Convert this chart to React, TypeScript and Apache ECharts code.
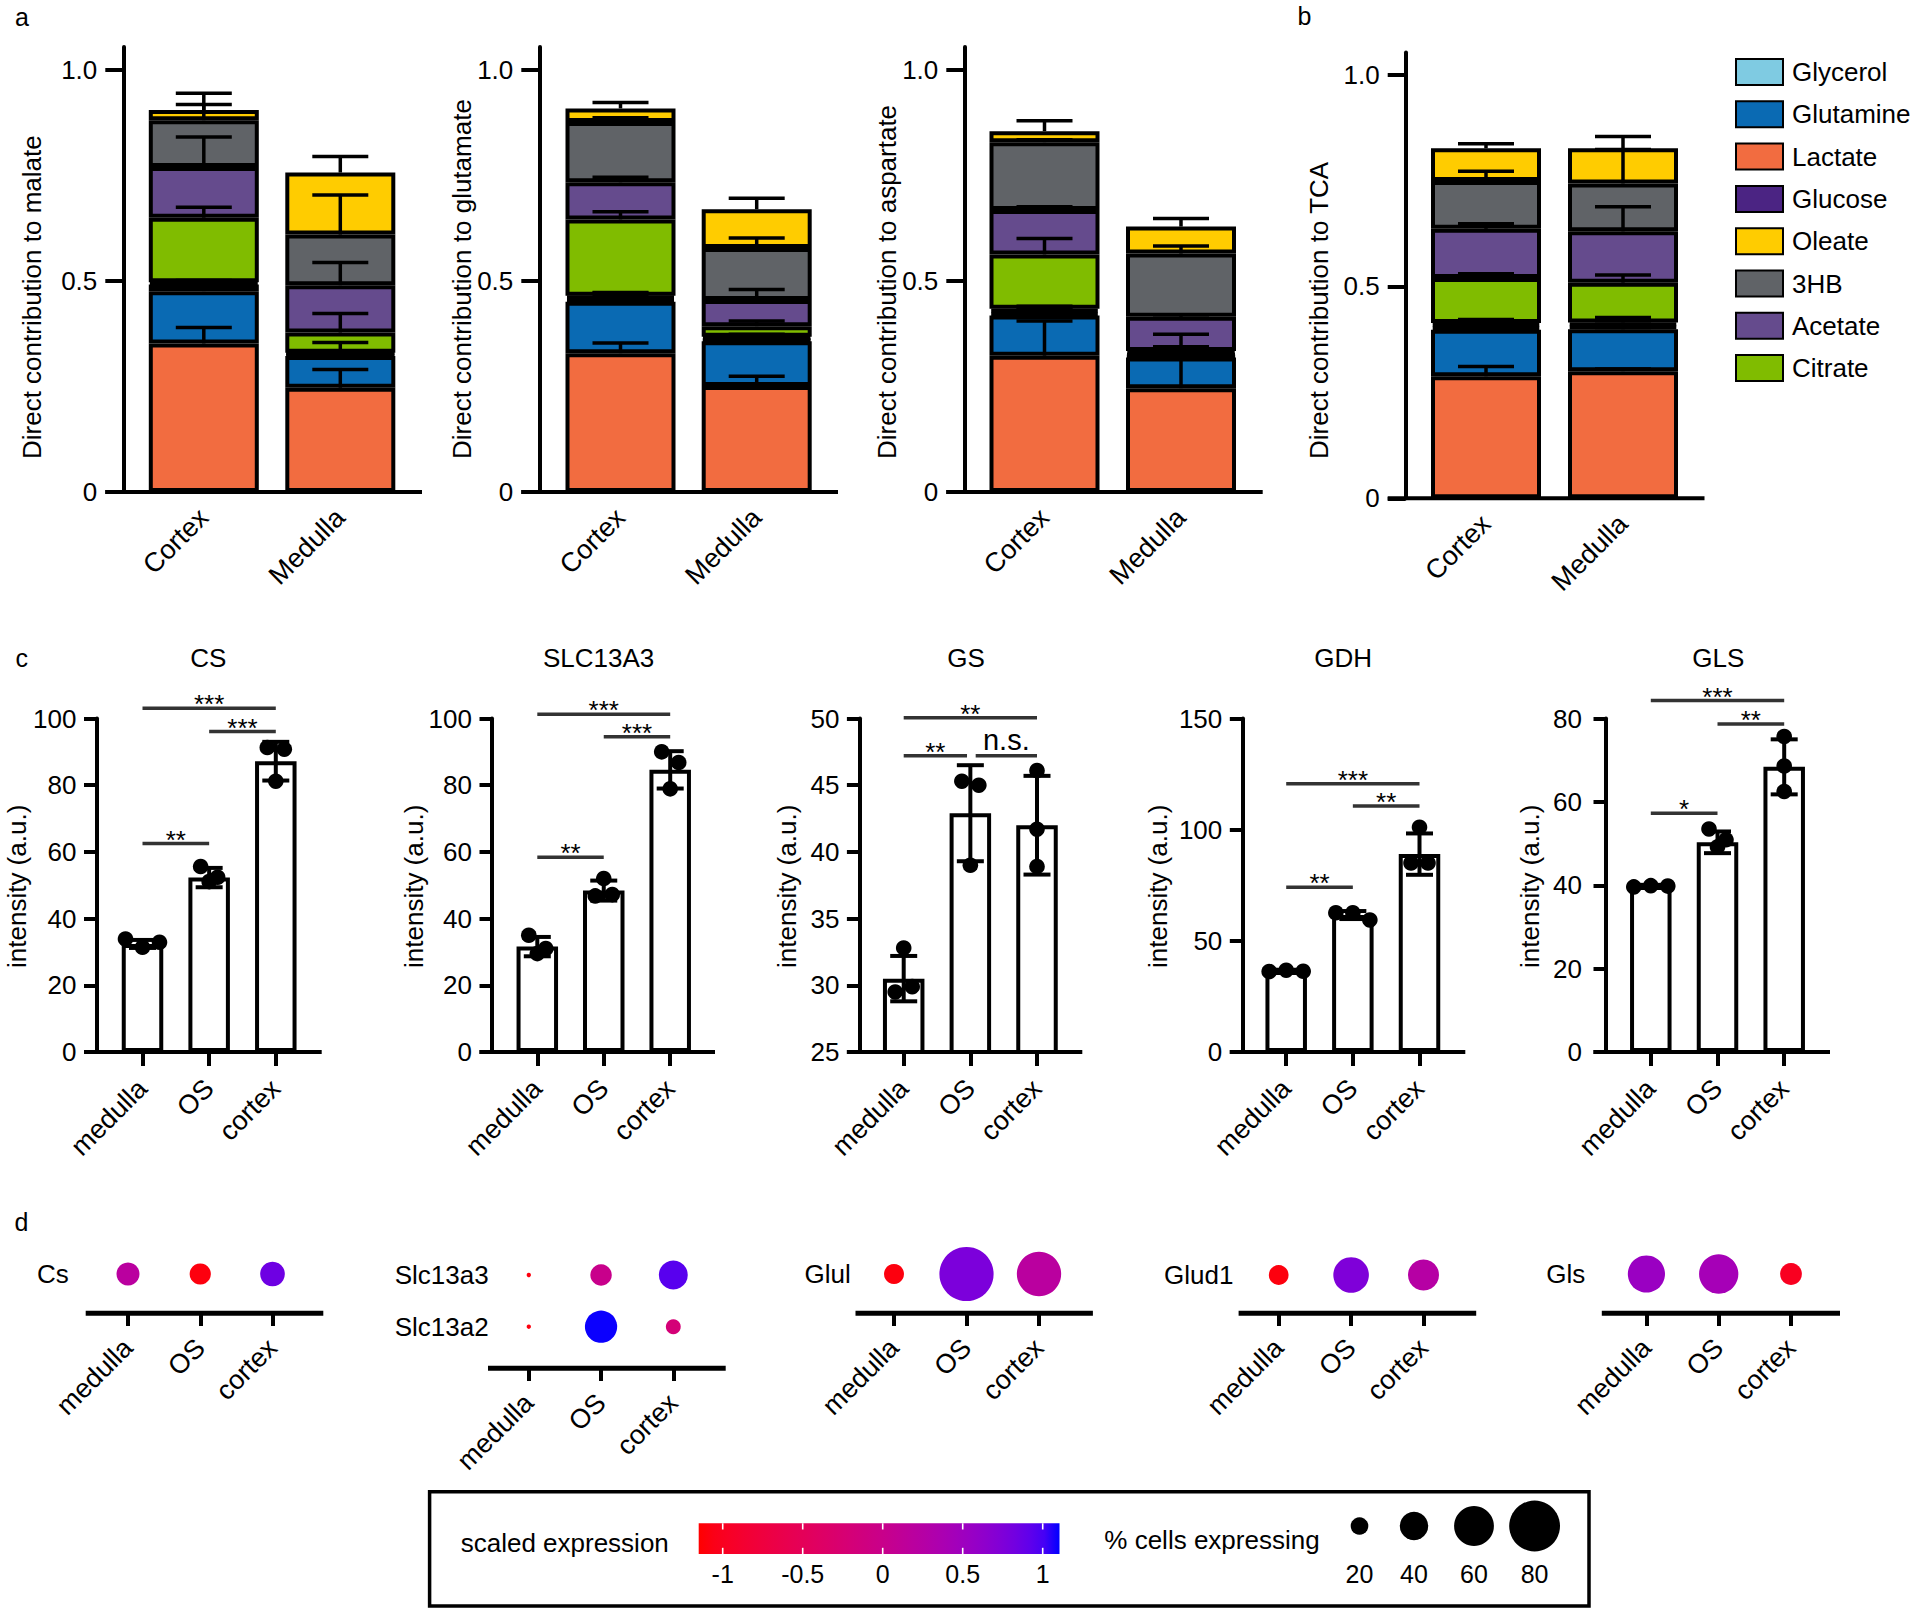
import { useEffect, useRef } from 'react';
import * as echarts from 'echarts';

const FONT = '"Liberation Sans", Arial, Helvetica, sans-serif';
const W = 1920;
const H = 1612;

// ---------------- panels a & b : direct contributions ----------------
const abGroups = ['Cortex', 'Medulla'];
// stacking order, bottom -> top
const stackSources = ['Lactate', 'Glutamine', 'Glycerol', 'Glucose', 'Citrate', 'Acetate', '3HB', 'Oleate'];
const sourceColors = ['#f26c40', '#0a6ab3', '#7fcbe2', '#4b2483', '#80bc00', '#654b8d', '#606367', '#ffcc00'];
const legendSources = ['Glycerol', 'Glutamine', 'Lactate', 'Glucose', 'Oleate', '3HB', 'Acetate', 'Citrate'];

// [cortex, medulla] for each source in stacking order
const malateMean = [[0.352, 0.247], [0.124, 0.075], [0.016, 0.004], [0.005, 0.004], [0.153, 0.048], [0.12, 0.112], [0.111, 0.12], [0.024, 0.147]];
const malateErr = [[0.038, 0.043], [0.024, 0.032], [0.006, 0.004], [0.004, 0.004], [0.025, 0.045], [0.071, 0.054], [0.037, 0.094], [0.04, 0.038]];
const glutamateMean = [[0.329, 0.251], [0.122, 0.106], [0.007, 0.005], [0.007, 0.006], [0.181, 0.025], [0.088, 0.062], [0.143, 0.123], [0.032, 0.092]];
const glutamateErr = [[0.024, 0.023], [0.02, 0.016], [0.005, 0.005], [0.008, 0.005], [0.018, 0.012], [0.012, 0.025], [0.01, 0.024], [0.014, 0.026]];
const aspartateMean = [[0.323, 0.246], [0.095, 0.073], [0.008, 0.004], [0.008, 0.005], [0.129, 0.006], [0.105, 0.081], [0.161, 0.15], [0.026, 0.064]];
const aspartateErr = [[0.082, 0.085], [0.018, 0.055], [0.005, 0.004], [0.006, 0.005], [0.038, 0.01], [0.008, 0.005], [0.006, 0.018], [0.025, 0.019]];
const tcaMean = [[0.288, 0.3], [0.11, 0.099], [0.008, 0.008], [0.008, 0.008], [0.106, 0.094], [0.116, 0.121], [0.113, 0.113], [0.077, 0.083]];
const tcaErr = [[0.023, 0.005], [0.008, 0.004], [0.004, 0.004], [0.008, 0.012], [0.01, 0.018], [0.012, 0.058], [0.023, 0.08], [0.011, 0.028]];
const abYTicks = [0, 0.5, 1];

const abCharts = [
  { name: 'Direct contribution to malate', mean: malateMean, err: malateErr },
  { name: 'Direct contribution to glutamate', mean: glutamateMean, err: glutamateErr },
  { name: 'Direct contribution to aspartate', mean: aspartateMean, err: aspartateErr },
  { name: 'Direct contribution to TCA', mean: tcaMean, err: tcaErr },
];
const abLayout = [
  { axisX: 123.3, c0: 203.8, c1: 340.3, xEnd: 422, top: 47, one: 70, bottom: 492, nameX: 32 },
  { axisX: 539.3, c0: 620.5, c1: 756.7, xEnd: 838, top: 47, one: 70, bottom: 492, nameX: 461.7 },
  { axisX: 964.3, c0: 1044.5, c1: 1181, xEnd: 1262.7, top: 47, one: 70, bottom: 492, nameX: 886.7 },
  { axisX: 1405.7, c0: 1486, c1: 1623, xEnd: 1704.5, top: 52.4, one: 74.6, bottom: 498.3, nameX: 1318.8 },
];

// ---------------- panel c : protein intensity ----------------
const regions = ['medulla', 'OS', 'cortex'];
const csMean = [32.4, 52.3, 87.2];
const csSd = [1.2, 2.9, 5.8];
const csPoints = [[33.9, 31.4, 32.9], [55.6, 51.1, 52.4], [91.3, 90.8, 81.2]];
const csBrackets = [[0, 1, 62.5], [0, 2, 103.1], [1, 2, 96.1]];
const csStars = ['**', '***', '***'];
const slcMean = [31.6, 48.4, 84.6];
const slcSd = [2.9, 3.0, 5.6];
const slcPoints = [[35.0, 31.0, 29.5], [52.0, 46.8, 47.2], [90.0, 86.8, 78.9]];
const slcBrackets = [[0, 1, 58.4], [0, 2, 101.3], [1, 2, 94.5]];
const slcStars = ['**', '***', '***'];
const gsMean = [30.5, 42.9, 42.0];
const gsSd = [1.7, 3.6, 3.7];
const gsPoints = [[32.8, 29.5, 29.9], [45.3, 45.0, 39.0], [46.1, 41.7, 38.9]];
const gsBrackets = [[0, 0.95, 47.2], [1.08, 2, 47.2], [0, 2, 50.05]];
const gsStars = ['**', 'n.s.', '**'];
const gdhMean = [36.4, 61.6, 89.0];
const gdhSd = [0.6, 1.8, 9.3];
const gdhPoints = [[36.2, 36.8, 36.3], [62.6, 62.6, 59.4], [101.1, 85.0, 85.0]];
const gdhBrackets = [[0, 1, 74.1], [0, 2, 120.6], [1, 2, 110.7]];
const gdhStars = ['**', '***', '**'];
const glsMean = [39.8, 50.3, 68.4];
const glsSd = [0.3, 2.6, 6.6];
const glsPoints = [[39.6, 39.9, 39.8], [53.5, 49.2, 50.9], [75.7, 68.6, 62.5]];
const glsBrackets = [[0, 1, 57.3], [0, 2, 84.3], [1, 2, 78.7]];
const glsStars = ['*', '***', '**'];

const cCharts = [
  { title: 'CS', mean: csMean, sd: csSd, pts: csPoints, br: csBrackets, stars: csStars, min: 0, max: 100, interval: 20 },
  { title: 'SLC13A3', mean: slcMean, sd: slcSd, pts: slcPoints, br: slcBrackets, stars: slcStars, min: 0, max: 100, interval: 20 },
  { title: 'GS', mean: gsMean, sd: gsSd, pts: gsPoints, br: gsBrackets, stars: gsStars, min: 25, max: 50, interval: 5 },
  { title: 'GDH', mean: gdhMean, sd: gdhSd, pts: gdhPoints, br: gdhBrackets, stars: gdhStars, min: 0, max: 150, interval: 50 },
  { title: 'GLS', mean: glsMean, sd: glsSd, pts: glsPoints, br: glsBrackets, stars: glsStars, min: 0, max: 80, interval: 20 },
];
const cLayout = [
  { axisX: 96.5, c0: 142.5, c2: 275.8, xEnd: 321.7, titleX: 208.4, nameX: 17, labelMargin: 20 },
  { axisX: 492, c0: 537.3, c2: 670.2, xEnd: 715, titleX: 598.6, nameX: 414.4, labelMargin: 20 },
  { axisX: 859.4, c0: 903.7, c2: 1037, xEnd: 1082.3, titleX: 966, nameX: 786.7, labelMargin: 20 },
  { axisX: 1242.3, c0: 1286.2, c2: 1419.5, xEnd: 1465.3, titleX: 1343.1, nameX: 1157.5, labelMargin: 20 },
  { axisX: 1606, c0: 1650.8, c2: 1784.2, xEnd: 1830, titleX: 1718.3, nameX: 1530, labelMargin: 24 },
];
const C_TOP = 718.5;
const C_BOTTOM = 1052;

// ---------------- panel d : dot plots ----------------
const csPct = [30, 26.7, 33.1];
const csScaled = [0.2, -1.1, 0.85];
const slc13a3Pct = [0.5, 27.2, 40.9];
const slc13a3Scaled = [-1.1, 0.0, 0.95];
const slc13a2Pct = [0.5, 46.7, 16];
const slc13a2Scaled = [-1.1, 1.1, -0.2];
const glulPct = [24.4, 86.2, 68.2];
const glulScaled = [-1.1, 0.77, 0.2];
const glud1Pct = [24, 52.6, 44.6];
const glud1Scaled = [-1.1, 0.75, 0.25];
const glsPct = [55.4, 59.1, 27.8];
const glsScaled = [0.54, 0.43, -1.0];

const dotPanels = [
  { genes: ['Cs'], pct: [csPct], scaled: [csScaled] },
  { genes: ['Slc13a2', 'Slc13a3'], pct: [slc13a2Pct, slc13a3Pct], scaled: [slc13a2Scaled, slc13a3Scaled] },
  { genes: ['Glul'], pct: [glulPct], scaled: [glulScaled] },
  { genes: ['Glud1'], pct: [glud1Pct], scaled: [glud1Scaled] },
  { genes: ['Gls'], pct: [glsPct], scaled: [glsScaled] },
];
const dLayout = [
  { c0: 128, c2: 272.5, lineX: [85.7, 323.3], axisY: 1313.3, topRowY: 1274, labelMargin: 23 },
  { c0: 528.8, c2: 673.3, lineX: [488, 725.7], axisY: 1368.3, topRowY: 1275, labelMargin: 4 },
  { c0: 894, c2: 1039, lineX: [855.5, 1092.9], axisY: 1313.3, topRowY: 1274, labelMargin: 7 },
  { c0: 1278.7, c2: 1423.5, lineX: [1238.6, 1476.2], axisY: 1313.3, topRowY: 1275, labelMargin: 9 },
  { c0: 1646.4, c2: 1791, lineX: [1601.8, 1840], axisY: 1313.3, topRowY: 1274, labelMargin: 25 },
];
const D_ROW = 51.7;

// legend scales
const exprTicks = [-1, -0.5, 0, 0.5, 1];
const exprDomain = [-1.15, 1.105];
const exprLow = '#ff0000';
const exprHigh = '#0000ff';
const sizeTicks = [20, 40, 60, 80];
const sizeDomain = [0, 20, 40, 60, 80, 100];
const sizeRange = [4, 17.6, 28.4, 39.8, 50.8, 61.8];

// ---------------- helpers ----------------
function hexToRgb(h: string) {
  const n = parseInt(h.slice(1), 16);
  return [(n >> 16) & 255, (n >> 8) & 255, n & 255];
}
const lin = (c: number) => {
  c /= 255;
  return c <= 0.04045 ? c / 12.92 : Math.pow((c + 0.055) / 1.055, 2.4);
};
const unlin = (c: number) => {
  const v = c <= 0.0031308 ? 12.92 * c : 1.055 * Math.pow(Math.max(c, 0), 1 / 2.4) - 0.055;
  return Math.round(Math.min(1, Math.max(0, v)) * 255);
};
const XN = 0.95047;
const ZN = 1.08883;
const fl = (t: number) => (t > 216 / 24389 ? Math.cbrt(t) : ((24389 / 27) * t + 16) / 116);
const finv = (t: number) => (t * t * t > 216 / 24389 ? t * t * t : (116 * t - 16) / (24389 / 27));
function toLab(hex: string) {
  const [r, g, b] = hexToRgb(hex).map(lin);
  const X = 0.4124 * r + 0.3576 * g + 0.1805 * b;
  const Y = 0.2126 * r + 0.7152 * g + 0.0722 * b;
  const Z = 0.0193 * r + 0.1192 * g + 0.9505 * b;
  const fx = fl(X / XN), fy = fl(Y), fz = fl(Z / ZN);
  return [116 * fy - 16, 500 * (fx - fy), 200 * (fy - fz)];
}
function fromLab(L: number, a: number, b: number) {
  const fy = (L + 16) / 116, fx = fy + a / 500, fz = fy - b / 200;
  const X = XN * finv(fx), Y = finv(fy), Z = ZN * finv(fz);
  const r = 3.2406 * X - 1.5372 * Y - 0.4986 * Z;
  const g = -0.9689 * X + 1.8758 * Y + 0.0415 * Z;
  const bb = 0.0557 * X - 0.204 * Y + 1.057 * Z;
  return `rgb(${unlin(r)},${unlin(g)},${unlin(bb)})`;
}
const labLow = toLab(exprLow);
const labHigh = toLab(exprHigh);
function exprColor(v: number) {
  let t = (v - exprDomain[0]) / (exprDomain[1] - exprDomain[0]);
  t = Math.min(1, Math.max(0, t));
  return fromLab(
    labLow[0] + (labHigh[0] - labLow[0]) * t,
    labLow[1] + (labHigh[1] - labLow[1]) * t,
    labLow[2] + (labHigh[2] - labLow[2]) * t,
  );
}
function dotSize(p: number) {
  for (let i = 1; i < sizeDomain.length; i++) {
    if (p <= sizeDomain[i]) {
      const t = (p - sizeDomain[i - 1]) / (sizeDomain[i] - sizeDomain[i - 1]);
      return sizeRange[i - 1] + t * (sizeRange[i] - sizeRange[i - 1]);
    }
  }
  return sizeRange[sizeRange.length - 1];
}
// centred horizontal swarm for dots of close value
function swarm(values: number[], pxPerUnit: number, gap: number) {
  const idx = values.map((v, i) => i).sort((a, b) => values[b] - values[a]);
  const offsets = new Array(values.length).fill(0);
  let cluster: number[] = [];
  const flush = () => {
    cluster.sort((a, b) => a - b);
    cluster.forEach((k, j) => (offsets[k] = (j - (cluster.length - 1) / 2) * gap));
    cluster = [];
  };
  idx.forEach((k) => {
    if (cluster.length && Math.abs(values[cluster[0]] - values[k]) * pxPerUnit >= gap * 0.85) flush();
    cluster.push(k);
  });
  flush();
  return offsets;
}

function txt(x: number, y: number, text: string, size: number, opt: any = {}) {
  const align = opt.align || 'center';
  const valign = opt.valign || 'middle';
  return {
    type: 'text',
    x,
    y,
    rotation: opt.rotation || 0,
    z: 20,
    style: {
      text,
      fontSize: size,
      fontFamily: FONT,
      fill: opt.color || '#000',
      textAlign: align,
      align,
      textVerticalAlign: valign,
      verticalAlign: valign,
    },
  };
}
function seg(x1: number, y1: number, x2: number, y2: number, w: number, color = '#000') {
  return { type: 'line', z: 20, shape: { x1, y1, x2, y2 }, style: { stroke: color, lineWidth: w } };
}

function buildOption() {
  const grid: any[] = [];
  const xAxis: any[] = [];
  const yAxis: any[] = [];
  const series: any[] = [];
  const graphics: any[] = [];

  // panel letters
  graphics.push(txt(22, 17, 'a', 25));
  graphics.push(txt(1304.5, 16, 'b', 25));
  graphics.push(txt(21.8, 657.5, 'c', 25));
  graphics.push(txt(21.4, 1221.7, 'd', 25));

  // ---------- a & b ----------
  abCharts.forEach((ch, i) => {
    const L = abLayout[i];
    const s = L.c1 - L.c0;
    const left = L.c0 - s / 2;
    const max = (L.bottom - L.top) / (L.bottom - L.one);
    const gi = grid.length;
    grid.push({ left, top: L.top, width: 2 * s, height: L.bottom - L.top, outerBoundsMode: 'none', containLabel: false });
    xAxis.push({
      type: 'category', gridIndex: gi, data: abGroups,
      axisLine: { show: false }, axisTick: { show: false }, splitLine: { show: false },
      axisLabel: { rotate: 45, margin: 21, fontSize: 27, fontFamily: FONT, color: '#000', interval: 0 },
    });
    yAxis.push({
      type: 'value', gridIndex: gi, min: 0, max, offset: left - L.axisX,
      splitLine: { show: false },
      axisLine: { show: true, lineStyle: { color: '#000', width: 4 } },
      axisTick: { show: true, length: 18, lineStyle: { color: '#000', width: 4 }, customValues: abYTicks },
      axisLabel: {
        customValues: abYTicks, fontSize: 26, margin: 26, color: '#000', fontFamily: FONT,
        formatter: (v: number) => (v === 0 ? '0' : v.toFixed(1)),
      },
    });
    const cum = [0, 0];
    const errData: number[][] = [];
    stackSources.forEach((src, k) => {
      series.push({
        type: 'bar', name: src, xAxisIndex: gi, yAxisIndex: gi, stack: 'ab' + i, barWidth: 110,
        data: ch.mean[k],
        itemStyle: { color: sourceColors[k], borderColor: '#000', borderWidth: 4 },
        emphasis: { disabled: true }, silent: true,
      });
      ch.mean[k].forEach((v, g) => {
        cum[g] += v;
        errData.push([g, cum[g], ch.err[k][g]]);
      });
    });
    series.push({
      type: 'custom', xAxisIndex: gi, yAxisIndex: gi, z: 6, silent: true, clip: false,
      data: errData,
      renderItem: (params: any, api: any) => {
        const p0 = api.coord([api.value(0), api.value(1)]);
        const p1 = api.coord([api.value(0), api.value(1) + api.value(2)]);
        return {
          type: 'group',
          children: [
            { type: 'line', shape: { x1: p0[0], y1: p0[1], x2: p1[0], y2: p1[1] }, style: { stroke: '#000', lineWidth: 3.5 } },
            { type: 'line', shape: { x1: p1[0] - 28, y1: p1[1], x2: p1[0] + 28, y2: p1[1] }, style: { stroke: '#000', lineWidth: 3.5 } },
          ],
        };
      },
    });
    graphics.push(seg(L.axisX - 18, L.bottom, L.xEnd, L.bottom, 4));
    graphics.push(txt(L.nameX, 459, ch.name, 26, { rotation: Math.PI / 2, align: 'left' }));
  });

  // legend for a/b
  const legend = {
    data: legendSources, orient: 'vertical', left: 1735, top: 58,
    itemWidth: 47, itemHeight: 26, itemGap: 14.3, icon: 'rect', selectedMode: false,
    padding: 0,
    textStyle: { fontSize: 26, fontFamily: FONT, color: '#000', padding: [0, 0, 0, 4] },
  };

  // ---------- c ----------
  cCharts.forEach((ch, i) => {
    const L = cLayout[i];
    const s = (L.c2 - L.c0) / 2;
    const left = L.c0 - s / 2;
    const gi = grid.length;
    grid.push({ left, top: C_TOP, width: 3 * s, height: C_BOTTOM - C_TOP, outerBoundsMode: 'none', containLabel: false });
    xAxis.push({
      type: 'category', gridIndex: gi, data: regions,
      axisLine: { show: false }, splitLine: { show: false },
      axisTick: { show: true, alignWithLabel: true, length: 14, lineStyle: { color: '#000', width: 4 } },
      axisLabel: { rotate: 45, margin: 32, fontSize: 27, fontFamily: FONT, color: '#000', interval: 0 },
    });
    yAxis.push({
      type: 'value', gridIndex: gi, min: ch.min, max: ch.max, interval: ch.interval, offset: left - L.axisX,
      splitLine: { show: false },
      axisLine: { show: true, lineStyle: { color: '#000', width: 4 } },
      axisTick: { show: true, length: 12.5, lineStyle: { color: '#000', width: 4 } },
      axisLabel: { fontSize: 26, margin: L.labelMargin, color: '#000', fontFamily: FONT },
    });
    series.push({
      type: 'bar', xAxisIndex: gi, yAxisIndex: gi, barWidth: 41.5, data: ch.mean, silent: true,
      itemStyle: { color: '#fff', borderColor: '#000', borderWidth: 4 },
    });
    series.push({
      type: 'custom', xAxisIndex: gi, yAxisIndex: gi, z: 5, silent: true, clip: false,
      data: ch.mean.map((m, j) => [j, m, ch.sd[j]]),
      renderItem: (params: any, api: any) => {
        const x = api.value(0), m = api.value(1), sd = api.value(2);
        const hi = api.coord([x, m + sd]);
        const lo = api.coord([x, m - sd]);
        const st = { stroke: '#000', lineWidth: 4 };
        return {
          type: 'group',
          children: [
            { type: 'line', shape: { x1: hi[0], y1: hi[1], x2: lo[0], y2: lo[1] }, style: st },
            { type: 'line', shape: { x1: hi[0] - 13.5, y1: hi[1], x2: hi[0] + 13.5, y2: hi[1] }, style: st },
            { type: 'line', shape: { x1: lo[0] - 13.5, y1: lo[1], x2: lo[0] + 13.5, y2: lo[1] }, style: st },
          ],
        };
      },
    });
    const pxPerUnit = (C_BOTTOM - C_TOP) / (ch.max - ch.min);
    const dots: number[][] = [];
    ch.pts.forEach((vals, j) => {
      const off = swarm(vals, pxPerUnit, 17);
      vals.forEach((v, k) => dots.push([j, v, off[k]]));
    });
    series.push({
      type: 'custom', xAxisIndex: gi, yAxisIndex: gi, z: 7, silent: true, clip: false,
      data: dots,
      renderItem: (params: any, api: any) => {
        const p = api.coord([api.value(0), api.value(1)]);
        return { type: 'circle', shape: { cx: p[0] + api.value(2), cy: p[1], r: 7.8 }, style: { fill: '#000' } };
      },
    });
    series.push({
      type: 'custom', xAxisIndex: gi, yAxisIndex: gi, z: 7, silent: true, clip: false,
      data: ch.br,
      renderItem: (params: any, api: any) => {
        const y = api.value(2);
        const a = api.coord([0, y]);
        const b = api.coord([1, y]);
        const step = b[0] - a[0];
        const x1 = a[0] + api.value(0) * step;
        const x2 = a[0] + api.value(1) * step;
        const label = ch.stars[params.dataIndex];
        const ns = label === 'n.s.';
        return {
          type: 'group',
          children: [
            { type: 'line', shape: { x1, y1: a[1], x2, y2: a[1] }, style: { stroke: '#333', lineWidth: 3.5 } },
            {
              type: 'text', x: (x1 + x2) / 2, y: ns ? a[1] - 1 : a[1] - 4,
              style: {
                text: label, fontSize: ns ? 29 : 26, fontFamily: FONT, fill: '#000',
                textAlign: 'center', align: 'center',
                textVerticalAlign: ns ? 'bottom' : 'middle', verticalAlign: ns ? 'bottom' : 'middle',
              },
            },
          ],
        };
      },
    });
    graphics.push(seg(L.axisX - 12.5, C_BOTTOM, L.xEnd, C_BOTTOM, 4));
    graphics.push(txt(L.titleX, 657.5, ch.title, 26));
    graphics.push(txt(L.nameX, 968, 'intensity (a.u.)', 26, { rotation: Math.PI / 2, align: 'left' }));
  });

  // ---------- d ----------
  dotPanels.forEach((pn, i) => {
    const L = dLayout[i];
    const s = (L.c2 - L.c0) / 2;
    const left = L.c0 - s / 2;
    const top = L.topRowY - D_ROW / 2;
    const height = D_ROW * pn.genes.length;
    const gi = grid.length;
    grid.push({ left, top, width: 3 * s, height, outerBoundsMode: 'none', containLabel: false });
    xAxis.push({
      type: 'category', gridIndex: gi, data: regions, offset: L.axisY - (top + height),
      axisLine: { show: false }, splitLine: { show: false },
      axisTick: { show: true, alignWithLabel: true, length: 12.7, lineStyle: { color: '#000', width: 4 } },
      axisLabel: { rotate: 45, margin: 30, fontSize: 27, fontFamily: FONT, color: '#000', interval: 0 },
    });
    yAxis.push({
      type: 'category', gridIndex: gi, data: pn.genes,
      axisLine: { show: false }, axisTick: { show: false }, splitLine: { show: false },
      axisLabel: { fontSize: 26, margin: L.labelMargin, color: '#000', fontFamily: FONT, padding: [11, 0, 0, 0] },
    });
    const data: number[][] = [];
    pn.genes.forEach((g, gIdx) => {
      regions.forEach((r, rIdx) => data.push([rIdx, gIdx, pn.pct[gIdx][rIdx], pn.scaled[gIdx][rIdx]]));
    });
    series.push({
      type: 'scatter', xAxisIndex: gi, yAxisIndex: gi, silent: true, z: 5,
      data,
      symbol: 'circle',
      symbolSize: (v: number[]) => dotSize(v[2]),
      itemStyle: { color: (p: any) => exprColor(p.value[3]), opacity: 1 },
    });
    graphics.push(seg(L.lineX[0], L.axisY, L.lineX[1], L.axisY, 5));
  });

  // ---------- d legend box ----------
  graphics.push({ type: 'rect', z: 15, shape: { x: 429.6, y: 1491.7, width: 1159.4, height: 114.3 }, style: { fill: '#fff', stroke: '#000', lineWidth: 3.5 } });
  graphics.push(txt(460.7, 1543.3, 'scaled expression', 26, { align: 'left' }));
  const barX = (v: number) => 882.7 + 160 * v;
  const stops = [];
  for (let k = 0; k <= 24; k++) {
    const v = exprDomain[0] + ((exprDomain[1] - exprDomain[0]) * k) / 24;
    stops.push({ offset: k / 24, color: exprColor(v) });
  }
  const bx0 = barX(exprDomain[0]);
  const bx1 = barX(exprDomain[1]);
  graphics.push({
    type: 'rect', z: 21, shape: { x: bx0, y: 1523.3, width: bx1 - bx0, height: 30.7 },
    style: { fill: new echarts.graphic.LinearGradient(0, 0, 1, 0, stops) },
  });
  exprTicks.forEach((t) => {
    const x = barX(t);
    graphics.push({ ...seg(x, 1523.3, x, 1529.5, 1.6, '#fff'), z: 22 });
    graphics.push({ ...seg(x, 1547.8, x, 1554, 1.6, '#fff'), z: 22 });
    graphics.push(txt(x, 1574, String(t), 25));
  });
  graphics.push(txt(1104.3, 1540, '% cells expressing', 26, { align: 'left' }));
  const sizeX = [1359.5, 1414, 1474, 1534.6];
  sizeTicks.forEach((p, k) => {
    graphics.push({ type: 'circle', z: 21, shape: { cx: sizeX[k], cy: 1526, r: dotSize(p) / 2 }, style: { fill: '#000' } });
    graphics.push(txt(sizeX[k], 1574, String(p), 25));
  });

  return {
    animation: false,
    backgroundColor: '#fff',
    textStyle: { fontFamily: FONT },
    legend,
    grid,
    xAxis,
    yAxis,
    series,
    graphic: { elements: graphics },
  };
}

export default function App() {
  const ref = useRef<HTMLDivElement>(null);
  useEffect(() => {
    if (!ref.current) return;
    const chart = echarts.init(ref.current, undefined, { renderer: 'svg', width: W, height: H });
    chart.setOption(buildOption() as any);
    return () => chart.dispose();
  }, []);
  return (
    <div
      ref={ref}
      style={{ position: 'absolute', left: 0, top: 0, width: W, height: H, background: '#fff' }}
    />
  );
}
